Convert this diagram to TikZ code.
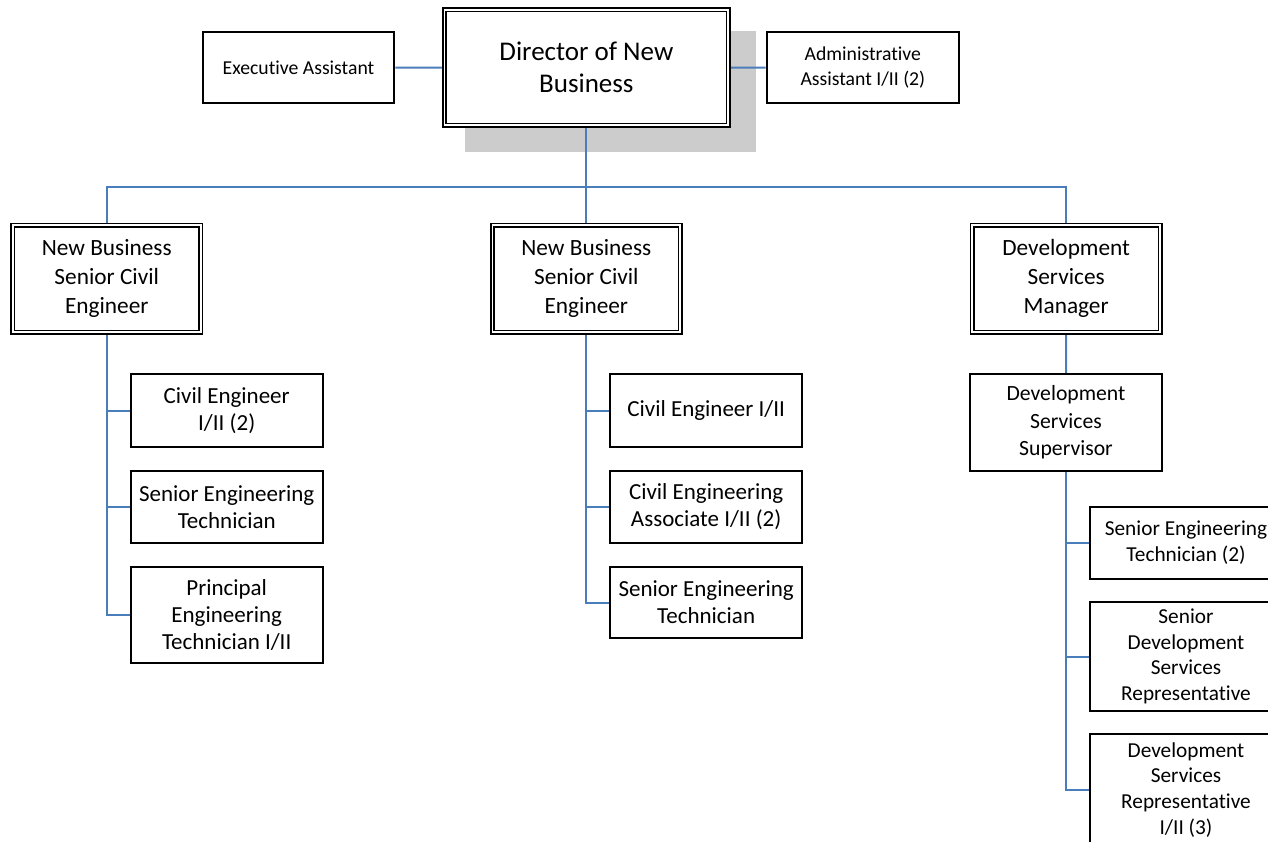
\documentclass[tikz,border=0pt]{standalone}
\usepackage{fontspec}
\setmainfont{Carlito}[Ligatures=NoCommon]
\usetikzlibrary{backgrounds}
\definecolor{connblue}{HTML}{4A7EBB}
\definecolor{shadegray}{HTML}{CCCCCC}
\begin{document}
\begin{tikzpicture}[x=1pt,y=-1pt,
  box/.style={draw=black, line width=2pt, fill=white, rectangle, inner sep=0pt, align=center},
  dbox/.style={draw=black, line width=1.6pt, double=white, double distance=1.8pt, fill=white, rectangle, inner sep=0pt, align=center},
  seniorbox/.style={dbox, minimum width=187.7pt, minimum height=107pt, font=\fontsize{23.3}{29}\selectfont},
  childbox/.style={box, minimum width=192pt, font=\fontsize{23}{27}\selectfont},
  rchildbox/.style={box, minimum width=192pt, font=\fontsize{21.3}{25.7}\selectfont},
  conn/.style={draw=connblue, line width=2pt}]
\useasboundingbox (0,0) rectangle (1268,841);
\clip (0,0) rectangle (1268,841);

% top row
\node[dbox, minimum width=283.7pt, minimum height=115.5pt, font=\fontsize{27}{32}\selectfont] (dir) at (586.35,67.55) {Director of New\\Business};
\node[box, minimum width=191.6pt, minimum height=71.6pt, font=\fontsize{19.7}{24}\selectfont] (exec) at (298.5,67.5) {Executive Assistant};
\node[box, minimum width=192.3pt, minimum height=71.6pt, font=\fontsize{19.7}{25}\selectfont] (admin) at (862.85,67.5) {Administrative\\Assistant I/II (2)};

% second row
\node[seniorbox] (s1) at (106.75,278.7) {New Business\\Senior Civil\\Engineer};
\node[seniorbox] (s2) at (586.35,278.7) {New Business\\Senior Civil\\Engineer};
\node[seniorbox] (s3) at (1066.2,278.7) {Development\\Services\\Manager};

% left branch
\node[childbox, minimum height=72.4pt] (c11) at (226.7,410.5) {Civil Engineer\\I/II (2)};
\node[childbox, minimum height=71.7pt] (c12) at (226.7,506.85) {Senior Engineering\\Technician};
\node[childbox, minimum height=96pt] (c13) at (226.7,614.7) {Principal\\Engineering\\Technician I/II};

% middle branch
\node[childbox, minimum height=72.4pt] (m1) at (706.15,410.5) {Civil Engineer I/II};
\node[childbox, minimum height=71.7pt] (m2) at (706.15,506.85) {Civil Engineering\\Associate I/II (2)};
\node[childbox, minimum height=71.6pt] (m3) at (706.15,602.5) {Senior Engineering\\Technician};

% right branch
\node[box, minimum width=192pt, minimum height=96.4pt, font=\fontsize{21.7}{27.5}\selectfont] (sup) at (1066,422.5) {Development\\Services\\Supervisor};
\node[rchildbox, minimum height=72.3pt] (r1) at (1186,542.85) {Senior Engineering\\Technician (2)};
\node[rchildbox, minimum height=108.4pt] (r2) at (1186,656.5) {Senior\\Development\\Services\\Representative};
\node[rchildbox, minimum height=111pt] (r3) at (1186,789.8) {Development\\Services\\Representative\\I/II (3)};

\coordinate (bus) at (586.35,187.3);

\begin{pgfonlayer}{background}
  \fill[shadegray] (465,31) rectangle (756,152.3);
  \draw[conn] (exec.east) -- (dir.west);
  \draw[conn] (dir.east) -- (admin.west);
  \draw[conn] (dir.south) -- (bus);
  \draw[conn] (bus) -| (s1.north);
  \draw[conn] (bus) -| (s3.north);
  \draw[conn] (bus) -- (s2.north);
  \draw[conn] (s1.south) |- (c11.west);
  \draw[conn] (s1.south) |- (c12.west);
  \draw[conn] (s1.south) |- (c13.west);
  \draw[conn] (s2.south) |- (m1.west);
  \draw[conn] (s2.south) |- (m2.west);
  \draw[conn] (s2.south) |- (m3.west);
  \draw[conn] (s3.south) -- (sup.north);
  \draw[conn] (sup.south) |- (r1.west);
  \draw[conn] (sup.south) |- (r2.west);
  \draw[conn] (sup.south) |- (r3.west);
\end{pgfonlayer}
\end{tikzpicture}
\end{document}
